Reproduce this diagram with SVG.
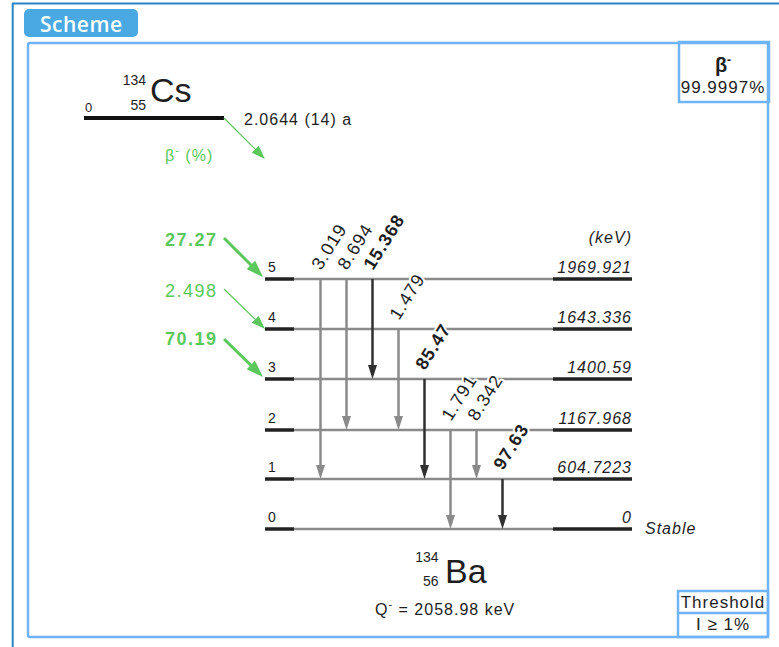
<svg xmlns="http://www.w3.org/2000/svg" width="779" height="647" viewBox="0 0 779 647">
<style>
  text { font-family: "Liberation Sans", Arial, sans-serif; fill: #1e1e1e; }
  .frame-outer { fill: none; stroke: #2a84c6; stroke-width: 2; }
  .frame-inner { fill: none; stroke: #6fb4f6; stroke-width: 2.5; }
  .lvl-black { stroke: #222; stroke-width: 3.5; }
  .lvl-grey { stroke: #8a8a8a; stroke-width: 2.5; }
  .g-grey { stroke: #8a8a8a; stroke-width: 2.5; fill: none; }
  .g-dark { stroke: #303030; stroke-width: 2.5; fill: none; }
  .feed-thick { stroke: #5cc85c; stroke-width: 3; fill: none; }
  .feed-thin { stroke: #5cc85c; stroke-width: 1.2; fill: none; }
  .num { font-size: 14px; }
  .energy { font-size: 16px; font-style: italic; letter-spacing: 1px; text-anchor: end; }
  .glab { font-size: 18px; letter-spacing: 1px; stroke: #fff; stroke-width: 4; paint-order: stroke; stroke-linejoin: round; }
  .glab-b { font-weight: bold; }
  .green { fill: #5cc85c; font-size: 18px; letter-spacing: 1.5px; }
  .txt { font-size: 16px; letter-spacing: 1px; }
  .box { font-size: 17px; letter-spacing: 1px; text-anchor: middle; }
</style>
<defs>
  <marker id="ah-grey" markerUnits="userSpaceOnUse" markerWidth="14" markerHeight="9" refX="8" refY="4.5" orient="auto">
    <path d="M0,0 L14,4.5 L0,9 z" fill="#8a8a8a"/>
  </marker>
  <marker id="ah-dark" markerUnits="userSpaceOnUse" markerWidth="14" markerHeight="9" refX="8" refY="4.5" orient="auto">
    <path d="M0,0 L14,4.5 L0,9 z" fill="#303030"/>
  </marker>
  <marker id="ah-green-big" markerUnits="userSpaceOnUse" markerWidth="17" markerHeight="12" refX="10" refY="6" orient="auto">
    <path d="M0,0 L17,6 L0,12 z" fill="#5cc85c"/>
  </marker>
  <marker id="ah-green-small" markerUnits="userSpaceOnUse" markerWidth="14" markerHeight="10" refX="7" refY="5" orient="auto">
    <path d="M0,0 L14,5 L0,10 z" fill="#5cc85c"/>
  </marker>
</defs>

<g id="frame">
  <rect width="779" height="647" fill="#fff"/>
  <line x1="12" y1="3.5" x2="779" y2="3.5" class="frame-outer" stroke-width="2.5"/>
  <line x1="12.7" y1="3" x2="12.7" y2="647" class="frame-outer" stroke-width="1.5"/>
  <rect x="28" y="43" width="740" height="594" rx="2" class="frame-inner"/>
</g>

<g id="tab">
  <rect x="24" y="9" width="114" height="28" rx="5" fill="#4aa9e3"/>
  <text x="40" y="32" style="font-family:'Open Sans','Liberation Sans',sans-serif;font-size:21px;font-weight:600;letter-spacing:0.5px;fill:#fff">Scheme</text>
</g>

<g id="mode-box">
  <rect x="679" y="42" width="90" height="60" class="frame-inner"/>
  <text x="723" y="72" style="font-size:20px;font-weight:bold;text-anchor:middle">β<tspan dy="-8" font-size="12">-</tspan></text>
  <text x="723" y="93" class="box">99.9997%</text>
</g>

<g id="threshold-box">
  <rect x="678" y="591" width="90" height="46" class="frame-inner"/>
  <line x1="678" y1="613" x2="768" y2="613" class="frame-inner"/>
  <text x="723" y="608" class="box">Threshold</text>
  <text x="723" y="630" class="box">I ≥ 1%</text>
</g>

<g id="parent">
  <line x1="84" y1="118" x2="224" y2="118" stroke="#111" stroke-width="4"/>
  <text x="85" y="112" style="font-size:13px">0</text>
  <text x="146" y="85" style="font-size:14px;text-anchor:end">134</text>
  <text x="146" y="110" style="font-size:14px;text-anchor:end">55</text>
  <text x="150" y="102" style="font-size:34px">Cs</text>
  <text x="244" y="125" class="txt">2.0644 (14) a</text>
  <text x="165" y="161" class="txt" style="fill:#5cc85c">β<tspan dy="-7" font-size="11">-</tspan><tspan dy="7"> (%)</tspan></text>
</g>

<g id="level-5">
  <line x1="265" y1="279" x2="294" y2="279" class="lvl-black"/>
  <line x1="294" y1="279" x2="553" y2="279" class="lvl-grey"/>
  <line x1="553" y1="279" x2="632" y2="279" class="lvl-black"/>
  <text x="268" y="272" class="num">5</text>
  <text x="632" y="273" class="energy">1969.921</text>
</g>
<g id="level-4">
  <line x1="265" y1="329" x2="294" y2="329" class="lvl-black"/>
  <line x1="294" y1="329" x2="553" y2="329" class="lvl-grey"/>
  <line x1="553" y1="329" x2="632" y2="329" class="lvl-black"/>
  <text x="268" y="322" class="num">4</text>
  <text x="632" y="323" class="energy">1643.336</text>
</g>
<g id="level-3">
  <line x1="265" y1="379" x2="294" y2="379" class="lvl-black"/>
  <line x1="294" y1="379" x2="553" y2="379" class="lvl-grey"/>
  <line x1="553" y1="379" x2="632" y2="379" class="lvl-black"/>
  <text x="268" y="372" class="num">3</text>
  <text x="632" y="373" class="energy">1400.59</text>
</g>
<g id="level-2">
  <line x1="265" y1="430" x2="294" y2="430" class="lvl-black"/>
  <line x1="294" y1="430" x2="553" y2="430" class="lvl-grey"/>
  <line x1="553" y1="430" x2="632" y2="430" class="lvl-black"/>
  <text x="268" y="423" class="num">2</text>
  <text x="632" y="424" class="energy">1167.968</text>
</g>
<g id="level-1">
  <line x1="265" y1="479" x2="294" y2="479" class="lvl-black"/>
  <line x1="294" y1="479" x2="553" y2="479" class="lvl-grey"/>
  <line x1="553" y1="479" x2="632" y2="479" class="lvl-black"/>
  <text x="268" y="472" class="num">1</text>
  <text x="632" y="473" class="energy">604.7223</text>
</g>
<g id="level-0">
  <line x1="265" y1="529" x2="294" y2="529" class="lvl-black"/>
  <line x1="294" y1="529" x2="553" y2="529" class="lvl-grey"/>
  <line x1="553" y1="529" x2="632" y2="529" class="lvl-black"/>
  <text x="268" y="522" class="num">0</text>
  <text x="632" y="523" class="energy">0</text>
  <text x="645" y="534" class="energy" style="text-anchor:start">Stable</text>
</g>
<text x="632" y="243" class="energy">(keV)</text>

<g id="daughter">
  <text x="438.5" y="562" style="font-size:14px;text-anchor:end">134</text>
  <text x="438.5" y="586" style="font-size:14px;text-anchor:end">56</text>
  <text x="445" y="583" style="font-size:34px">Ba</text>
  <text x="375" y="615" class="txt">Q<tspan dy="-7" font-size="11">-</tspan><tspan dy="7"> = 2058.98 keV</tspan></text>
</g>

<g id="connectors">
  <line x1="224" y1="118" x2="260" y2="154" class="feed-thin" stroke-width="1.5" marker-end="url(#ah-green-small)"/>
  <line x1="224" y1="238" x2="258" y2="272" class="feed-thick" marker-end="url(#ah-green-big)"/>
  <line x1="224" y1="289" x2="260" y2="324" class="feed-thin" marker-end="url(#ah-green-small)"/>
  <line x1="224" y1="339" x2="258" y2="372" class="feed-thick" marker-end="url(#ah-green-big)"/>

  <line x1="320.5" y1="279" x2="320.5" y2="473" class="g-grey" marker-end="url(#ah-grey)"/>
  <line x1="346.5" y1="279" x2="346.5" y2="424" class="g-grey" marker-end="url(#ah-grey)"/>
  <line x1="372.5" y1="279" x2="372.5" y2="373" class="g-dark" marker-end="url(#ah-dark)"/>
  <line x1="398.5" y1="329" x2="398.5" y2="424" class="g-grey" marker-end="url(#ah-grey)"/>
  <line x1="424.5" y1="379" x2="424.5" y2="473" class="g-dark" marker-end="url(#ah-dark)"/>
  <line x1="450.5" y1="430" x2="450.5" y2="523" class="g-grey" marker-end="url(#ah-grey)"/>
  <line x1="476.5" y1="430" x2="476.5" y2="473" class="g-grey" marker-end="url(#ah-grey)"/>
  <line x1="502.5" y1="479" x2="502.5" y2="523" class="g-dark" marker-end="url(#ah-dark)"/>
</g>

<g id="feed-labels">
  <text x="165" y="246" class="green" font-weight="bold">27.27</text>
  <text x="165" y="297" class="green">2.498</text>
  <text x="165" y="345" class="green" font-weight="bold">70.19</text>
</g>

<g id="gamma-labels">
  <text class="glab" transform="translate(321,271) rotate(-58)">3.019</text>
  <text class="glab" transform="translate(347,271) rotate(-58)">8.694</text>
  <text class="glab glab-b" transform="translate(373,271) rotate(-58)">15.368</text>
  <text class="glab" transform="translate(399,321) rotate(-58)">1.479</text>
  <text class="glab glab-b" transform="translate(425,371) rotate(-58)">85.47</text>
  <text class="glab" transform="translate(451,422) rotate(-58)">1.791</text>
  <text class="glab" transform="translate(477,422) rotate(-58)">8.342</text>
  <text class="glab glab-b" transform="translate(503,471) rotate(-58)">97.63</text>
</g>
</svg>
